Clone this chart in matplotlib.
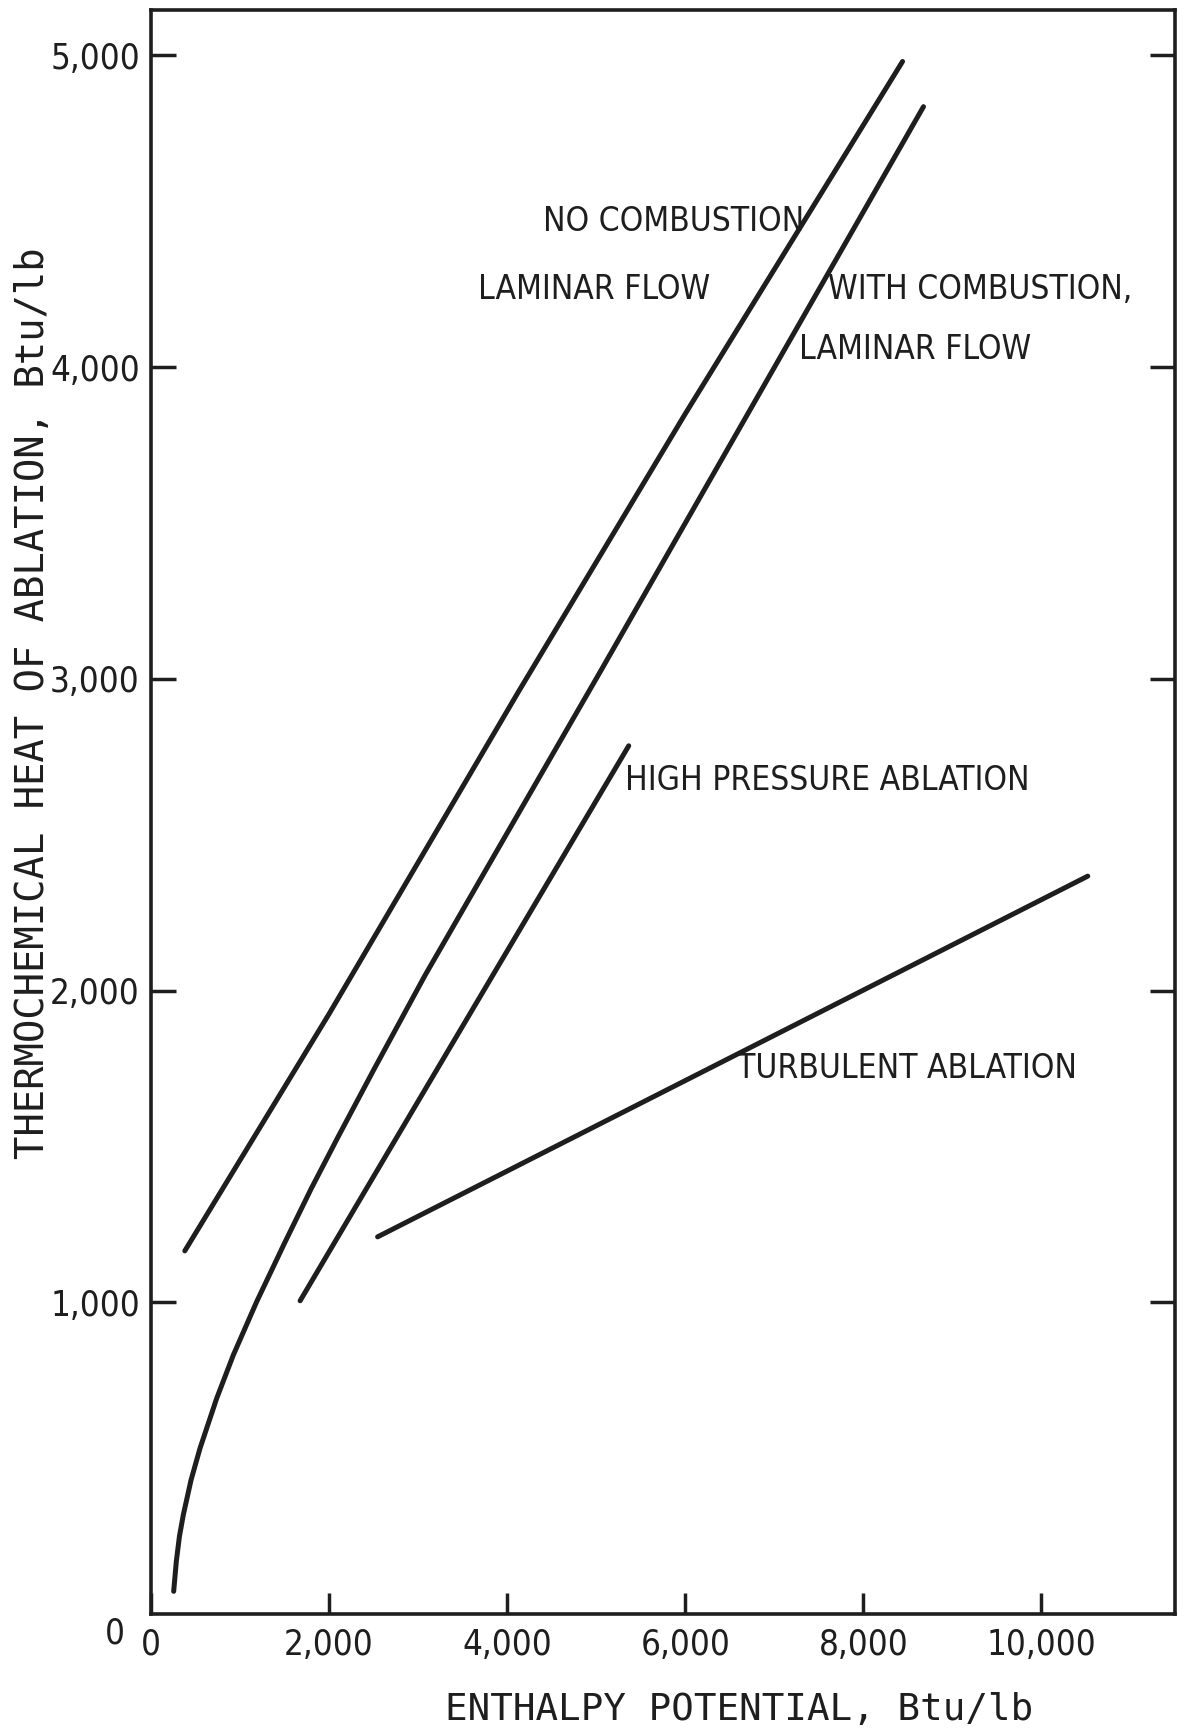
import matplotlib
matplotlib.use("Agg")
import matplotlib.pyplot as plt
from matplotlib import font_manager
from matplotlib.ticker import FuncFormatter

# curves (enthalpy potential, Btu/lb -> heat of ablation, Btu/lb)
no_comb_x = [380, 2000, 4130, 6000, 8440]
no_comb_y = [1165, 1925, 2960, 3850, 4980]

with_comb_x = [255, 285, 320, 363, 450, 551, 738, 925, 1187, 1500, 1800, 2100, 2500,
               3080, 5060, 8675]
with_comb_y = [73, 170, 250, 318, 430, 532, 692, 831, 1002, 1190, 1365, 1530, 1745,
               2050, 3030, 4835]

high_p_x = [1675, 2685, 5365]
high_p_y = [1005, 1493, 2785]

turb_x = [2545, 10520]
turb_y = [1210, 2367]

x_ticks = [0, 2000, 4000, 6000, 8000, 10000]
y_ticks = [1000, 2000, 3000, 4000, 5000]

labels = [
    ("NO COMBUSTION", 4404, 4468),
    ("LAMINAR FLOW", 3674, 4250),
    ("WITH COMBUSTION,", 7607, 4250),
    ("LAMINAR FLOW", 7281, 4055),
    ("HIGH PRESSURE ABLATION", 5326, 2675),
    ("TURBULENT ABLATION", 6584, 1749),
]

# pick a narrow face if one is around
cond = font_manager.findfont(font_manager.FontProperties(family="DejaVu Sans", stretch="condensed"))
if "Condensed" in cond:
    narrow = dict(family="DejaVu Sans", stretch="condensed")
else:
    narrow = dict(family="Liberation Sans")
mono = "DejaVu Sans Mono"
ink = "#1e1e1e"

fig = plt.figure(figsize=(11.85, 17.3), dpi=100)
ax = fig.add_axes([0.1274, 0.067, 0.8642, 0.9272])

for xs, ys in [(no_comb_x, no_comb_y), (with_comb_x, with_comb_y),
               (high_p_x, high_p_y), (turb_x, turb_y)]:
    ax.plot(xs, ys, color=ink, lw=3.6, solid_capstyle="round", solid_joinstyle="round")

for txt, x, y in labels:
    ax.text(x, y, txt, fontsize=24, color=ink, ha="left", va="center", **narrow)

ax.set_xlim(0, 11500)
ax.set_ylim(0, 5145)
ax.set_xticks(x_ticks)
ax.set_yticks(y_ticks)
fmt = FuncFormatter(lambda v, p: f"{int(v):,}")
ax.xaxis.set_major_formatter(fmt)
ax.yaxis.set_major_formatter(fmt)
ax.tick_params(axis="x", direction="in", length=15, width=2.5, color=ink, pad=10,
               labelsize=25, labelcolor=ink)
ax.tick_params(axis="y", direction="in", length=18, width=2.5, color=ink, pad=8,
               labelsize=25, labelcolor=ink, right=True)
for lab in ax.get_xticklabels() + ax.get_yticklabels():
    lab.set_fontproperties(font_manager.FontProperties(size=25, **narrow))

# the lone "0" at the origin of the y axis
ax.text(-0.035, -0.012, "0", transform=ax.transAxes, fontsize=25,
        color=ink, ha="center", va="center", **narrow)

for sp in ax.spines.values():
    sp.set_linewidth(2.6)
    sp.set_color(ink)

fig.text(739 / 1185, 1 - 1710 / 1730, "ENTHALPY POTENTIAL, Btu/lb", family=mono,
         fontsize=27, color=ink, ha="center", va="center")
fig.text(33 / 1185, 1 - 703 / 1730, "THERMOCHEMICAL HEAT OF ABLATION, Btu/lb",
         family=mono, fontsize=28, color=ink, ha="center", va="center", rotation=90)

fig.savefig("out.png", dpi=100, facecolor="white")
